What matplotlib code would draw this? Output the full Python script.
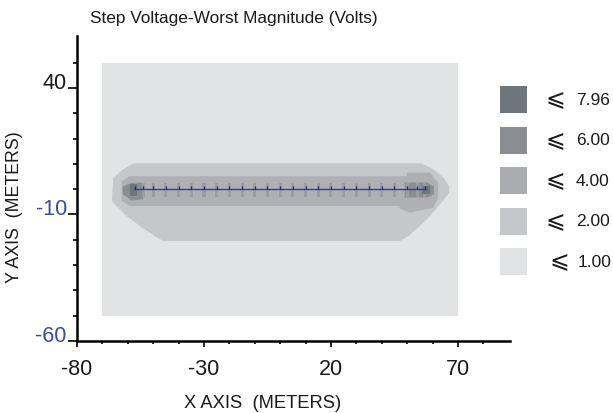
#!/usr/bin/env python3
# -*- coding: utf-8 -*-
"""
Step voltage contour map (worst magnitude) for a single buried conductor with rods.
Zone outlines are read off the reference plot and filled level by level.
"""

import matplotlib
matplotlib.use("Agg")
import matplotlib.pyplot as plt
from matplotlib.patches import Rectangle

plt.rcParams['font.family'] = ['Liberation Sans', 'DejaVu Sans']

# ---- data -----------------------------------------------------------------
# computation grid extent (everything inside is at least the 1.00 level)
grid_x = [-70, 70]
grid_y = [-50, 50]

# zone <= 2.00 (outer envelope)
zone2_x = [-57.8, -61.8, -65.7, -66.3, -60.4, -55.2, -49.3, -46.0,
           47.2, 50.4, 55.0, 59.0, 62.9, 66.6, 66.6, 64.3, 60.3, 55.7]
zone2_y = [10.2, 7.8, 4.5, -4.7, -10.7, -14.6, -18.6, -20.5,
           -20.5, -18.6, -14.6, -10.7, -6.0, -1.4, 1.2, 4.5, 7.8, 10.2]

# zone <= 4.00 (band along the conductor)
zone4_x = [-59.1, -62.4, -62.4, -59.1, 47.0, 47.0, 51.0, 60.3, 62.2, 62.2, 59.0, 49.8, 49.8]
zone4_y = [5.1, 3.2, -4.7, -6.7, -6.7, -7.6, -9.3, -7.4, -3.4, 2.5, 6.5, 6.5, 5.1]

# zone <= 6.00 (end blobs)
zone6_left_x = [-62.0, -58.5, -54.0, -54.0, -58.5, -62.0]
zone6_left_y = [1.0, 2.5, 2.5, -4.0, -4.5, -2.0]
zone6_right_x = [49.0, 58.0, 60.5, 60.5, 58.0, 49.0]
zone6_right_y = [2.6, 2.6, 1.0, -2.0, -3.3, -3.3]

# zone <= 7.96 (hot spots at the conductor ends)
zone8_left_x = [-59.1, -56.5, -56.5, -59.1]
zone8_left_y = [2.0, 2.0, -2.6, -2.6]
zone8_right_x = [55.7, 59.0, 59.0, 55.7]
zone8_right_y = [1.2, 1.2, -2.1, -2.1]

# conductor and ground rods
conductor_x = [-57.5, 57.5]
conductor_y = [0, 0]
rod_x = [-57, -54, -50, -45, -40, -35, -30, -25, -20, -15, -10, -5, 0,
         5, 10, 15, 20, 25, 30, 35, 40, 45, 50, 54, 57]

# legend
legend_labels = ['7.96', '6.00', '4.00', '2.00', '1.00']
legend_colors = ['#6f767b', '#8a8d92', '#aaacb0', '#c5c7cb', '#e2e3e5']
zone_colors = {8: '#6f767b', 6: '#8a8d92', 4: '#aeb0b4', 2: '#c5c7cb', 1: '#e2e3e5'}

x_major = [-80, -30, 20, 70]
y_major = [-60, -10, 40]
x_minor = [-70, -60, -50, -40, -20, -10, 0, 10, 30, 40, 50, 60, 80]
y_minor = [-50, -40, -30, -20, 0, 10, 20, 30, 50]
y_label_colors = ['#3a4ba0', '#3a4ba0', '#1a1a1a']


# ---- plot -----------------------------------------------------------------
fig = plt.figure(figsize=(6.13, 4.14), dpi=100)
ax = fig.add_axes([77 / 613, 1 - 342 / 414, 433 / 613, 305 / 414])

# background grid (1.00 level)
ax.fill([grid_x[0], grid_x[1], grid_x[1], grid_x[0]],
        [grid_y[0], grid_y[0], grid_y[1], grid_y[1]],
        color=zone_colors[1], lw=0)
ax.fill(zone2_x, zone2_y, color=zone_colors[2], lw=0)
ax.fill(zone4_x, zone4_y, color=zone_colors[4], lw=0)
ax.fill(zone6_left_x, zone6_left_y, color=zone_colors[6], lw=0)
ax.fill(zone6_right_x, zone6_right_y, color=zone_colors[6], lw=0)

# small darker patches around each rod
for rx in rod_x:
    ax.add_patch(Rectangle((rx - 0.6, -3.0), 1.2, 5.5, color='#9a9da1', lw=0))

ax.fill(zone8_left_x, zone8_left_y, color=zone_colors[8], lw=0)
ax.fill(zone8_right_x, zone8_right_y, color=zone_colors[8], lw=0)

# conductor + rod markers
ax.plot(conductor_x, conductor_y, color='#2b40b0', lw=1.0)
ax.vlines(rod_x, 0, 1.2, color='#1f2a6a', lw=0.9)

ax.set_xlim(-80, 90.5)
ax.set_ylim(-60, 60.5)

ax.spines['top'].set_visible(False)
ax.spines['right'].set_visible(False)
ax.spines['left'].set_linewidth(1.8)
ax.spines['bottom'].set_linewidth(1.8)

ax.set_xticks(x_major)
ax.set_xticks(x_minor, minor=True)
ax.set_yticks(y_major)
ax.set_yticks(y_minor, minor=True)
ax.set_xticklabels([str(v) for v in x_major])
ax.set_yticklabels([str(v) for v in y_major])

ax.tick_params(axis='x', which='major', length=4.3, width=1.2, pad=8, labelsize=15.5, labelcolor='#1a1a1a')
ax.tick_params(axis='x', which='minor', length=2.2, width=1.2)
ax.tick_params(axis='y', which='major', length=6.3, width=1.2, pad=1, labelsize=15.5)
ax.tick_params(axis='y', which='minor', length=3, width=1.2)

for label, c in zip(ax.get_yticklabels(), y_label_colors):
    label.set_color(c)
    label.set_va('baseline')

# titles
fig.text(234 / 613, 1 - 18 / 414, 'Step Voltage-Worst Magnitude (Volts)',
         ha='center', va='center', fontsize=12.4, color='#1a1a1a')
fig.text(263 / 613, 1 - 404 / 414, 'X AXIS  (METERS)',
         ha='center', va='center', fontsize=13.2, color='#1a1a1a')
fig.text(15 / 613, 1 - 207.5 / 414, 'Y AXIS  (METERS)', rotation=90,
         ha='center', va='center', fontsize=12.8, color='#1a1a1a')

# legend boxes
for i, (lab, col) in enumerate(zip(legend_labels, legend_colors)):
    top = 87 + i * 40.5
    fig.add_artist(Rectangle((500 / 613, 1 - (top + 27) / 414), 27 / 613, 27 / 414,
                             transform=fig.transFigure, color=col, lw=0))
    cy = 1 - (top + 13.5) / 414
    shift = 4 if i == len(legend_labels) - 1 else 0
    fig.text((546 + shift) / 613, cy, '\u2a7d', ha='left', va='center', fontsize=17, color='#1a1a1a')
    fig.text((576 + shift / 2) / 613, cy, lab, ha='left', va='center', fontsize=12.5, color='#1a1a1a')

plt.savefig('out.png', dpi=100)
plt.close()
